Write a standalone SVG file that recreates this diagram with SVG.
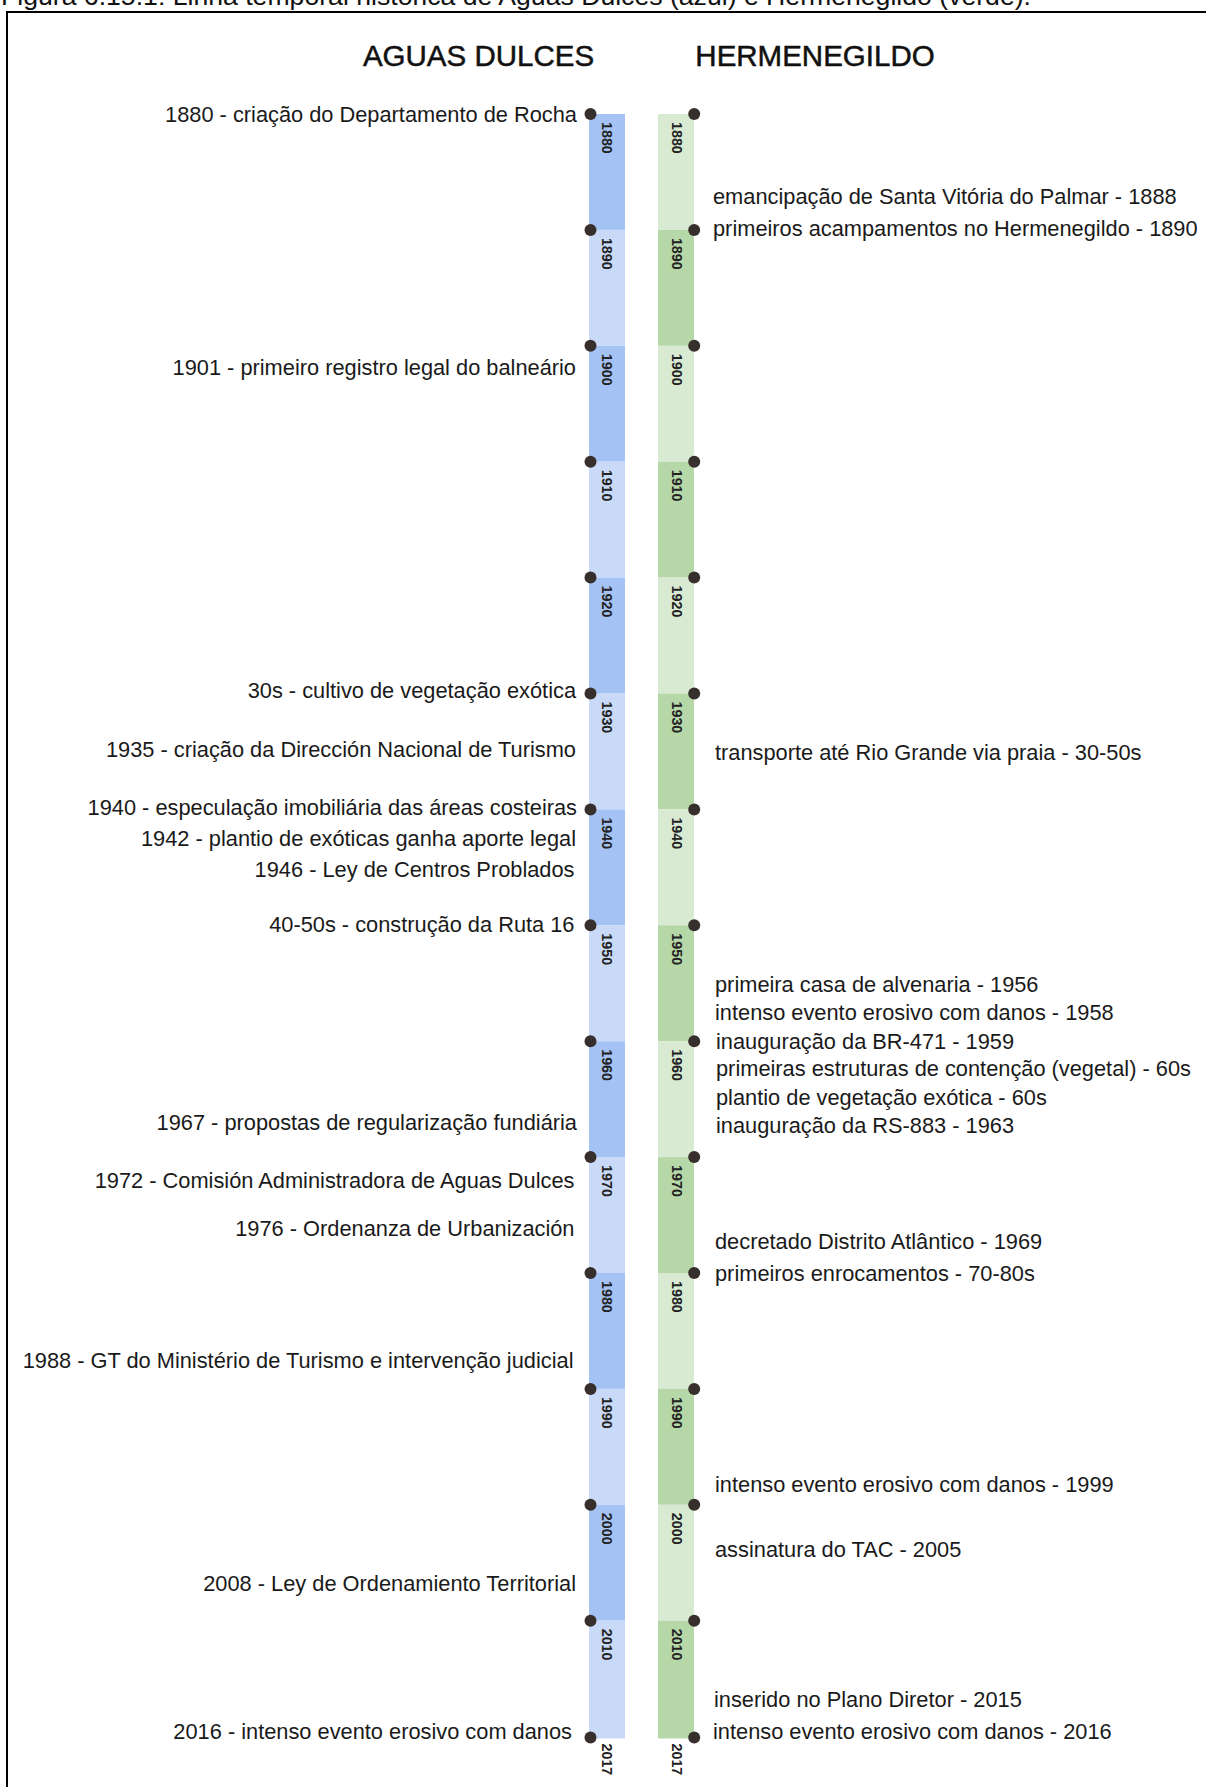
<svg xmlns="http://www.w3.org/2000/svg" width="1206" height="1787" viewBox="0 0 1206 1787">
<style>
  .cap{font-family:"Liberation Sans",Arial,sans-serif;font-size:26px;fill:#111}
  .ttl{font-family:"Liberation Sans",Arial,sans-serif;font-size:29.5px;fill:#111;stroke:#111;stroke-width:0.5px;text-anchor:middle}
  .ev{font-family:"Liberation Sans",Arial,sans-serif;font-size:21.8px;fill:#1a1a1a}
  .l{text-anchor:end}
  .yr{font-family:"Liberation Sans",Arial,sans-serif;font-size:14.3px;font-weight:bold;fill:#222}
  .bd{fill:#a4c2f4}.bl{fill:#c9daf8}.gd{fill:#b6d7a8}.gl{fill:#d9ead3}
  .dot{fill:#362f2c}
</style>
<rect width="1206" height="1787" fill="#fff"/>
<text class="cap" x="1" y="5" textLength="1030" lengthAdjust="spacingAndGlyphs">Figura 6.15.1: Linha temporal histórica de Aguas Dulces (azul) e Hermenegildo (verde).</text>
<path d="M7,1787 V12 H1206" fill="none" stroke="#000" stroke-width="2"/>

<g id="title-aguas-dulces"><text class="ttl" x="478.5" y="66">AGUAS DULCES</text></g>
<g id="title-hermenegildo"><text class="ttl" x="815" y="66">HERMENEGILDO</text></g>

<g id="bar-aguas-dulces">
  <rect class="bd" x="589" y="114" width="36" height="115.9"/>
  <rect class="bl" x="589" y="229.9" width="36" height="115.9"/>
  <rect class="bd" x="589" y="345.8" width="36" height="115.9"/>
  <rect class="bl" x="589" y="461.7" width="36" height="115.9"/>
  <rect class="bd" x="589" y="577.6" width="36" height="115.9"/>
  <rect class="bl" x="589" y="693.5" width="36" height="115.9"/>
  <rect class="bd" x="589" y="809.4" width="36" height="115.9"/>
  <rect class="bl" x="589" y="925.3" width="36" height="115.9"/>
  <rect class="bd" x="589" y="1041.2" width="36" height="115.9"/>
  <rect class="bl" x="589" y="1157.1" width="36" height="115.9"/>
  <rect class="bd" x="589" y="1273" width="36" height="115.9"/>
  <rect class="bl" x="589" y="1388.9" width="36" height="115.9"/>
  <rect class="bd" x="589" y="1504.8" width="36" height="115.9"/>
  <rect class="bl" x="589" y="1620.7" width="36" height="117.8"/>
  <g class="yr">
    <text transform="translate(607.3,122) rotate(90)" y="5">1880</text>
    <text transform="translate(607.3,237.9) rotate(90)" y="5">1890</text>
    <text transform="translate(607.3,353.8) rotate(90)" y="5">1900</text>
    <text transform="translate(607.3,469.7) rotate(90)" y="5">1910</text>
    <text transform="translate(607.3,585.6) rotate(90)" y="5">1920</text>
    <text transform="translate(607.3,701.5) rotate(90)" y="5">1930</text>
    <text transform="translate(607.3,817.4) rotate(90)" y="5">1940</text>
    <text transform="translate(607.3,933.3) rotate(90)" y="5">1950</text>
    <text transform="translate(607.3,1049.2) rotate(90)" y="5">1960</text>
    <text transform="translate(607.3,1165.1) rotate(90)" y="5">1970</text>
    <text transform="translate(607.3,1281) rotate(90)" y="5">1980</text>
    <text transform="translate(607.3,1396.9) rotate(90)" y="5">1990</text>
    <text transform="translate(607.3,1512.8) rotate(90)" y="5">2000</text>
    <text transform="translate(607.3,1628.7) rotate(90)" y="5">2010</text>
    <text transform="translate(607.3,1743.5) rotate(90)" y="5">2017</text>
  </g>
</g>

<g id="bar-hermenegildo">
  <rect class="gl" x="658" y="114" width="36" height="115.9"/>
  <rect class="gd" x="658" y="229.9" width="36" height="115.9"/>
  <rect class="gl" x="658" y="345.8" width="36" height="115.9"/>
  <rect class="gd" x="658" y="461.7" width="36" height="115.9"/>
  <rect class="gl" x="658" y="577.6" width="36" height="115.9"/>
  <rect class="gd" x="658" y="693.5" width="36" height="115.9"/>
  <rect class="gl" x="658" y="809.4" width="36" height="115.9"/>
  <rect class="gd" x="658" y="925.3" width="36" height="115.9"/>
  <rect class="gl" x="658" y="1041.2" width="36" height="115.9"/>
  <rect class="gd" x="658" y="1157.1" width="36" height="115.9"/>
  <rect class="gl" x="658" y="1273" width="36" height="115.9"/>
  <rect class="gd" x="658" y="1388.9" width="36" height="115.9"/>
  <rect class="gl" x="658" y="1504.8" width="36" height="115.9"/>
  <rect class="gd" x="658" y="1620.7" width="36" height="117.8"/>
  <g class="yr">
    <text transform="translate(676.5,122) rotate(90)" y="5">1880</text>
    <text transform="translate(676.5,237.9) rotate(90)" y="5">1890</text>
    <text transform="translate(676.5,353.8) rotate(90)" y="5">1900</text>
    <text transform="translate(676.5,469.7) rotate(90)" y="5">1910</text>
    <text transform="translate(676.5,585.6) rotate(90)" y="5">1920</text>
    <text transform="translate(676.5,701.5) rotate(90)" y="5">1930</text>
    <text transform="translate(676.5,817.4) rotate(90)" y="5">1940</text>
    <text transform="translate(676.5,933.3) rotate(90)" y="5">1950</text>
    <text transform="translate(676.5,1049.2) rotate(90)" y="5">1960</text>
    <text transform="translate(676.5,1165.1) rotate(90)" y="5">1970</text>
    <text transform="translate(676.5,1281) rotate(90)" y="5">1980</text>
    <text transform="translate(676.5,1396.9) rotate(90)" y="5">1990</text>
    <text transform="translate(676.5,1512.8) rotate(90)" y="5">2000</text>
    <text transform="translate(676.5,1628.7) rotate(90)" y="5">2010</text>
    <text transform="translate(676.5,1743.5) rotate(90)" y="5">2017</text>
  </g>
</g>

<g id="connectors">
  <g class="dot">
    <circle cx="590.5" cy="114" r="6"/><circle cx="590.5" cy="229.9" r="6"/><circle cx="590.5" cy="345.8" r="6"/>
    <circle cx="590.5" cy="461.7" r="6"/><circle cx="590.5" cy="577.6" r="6"/><circle cx="590.5" cy="693.5" r="6"/>
    <circle cx="590.5" cy="809.4" r="6"/><circle cx="590.5" cy="925.3" r="6"/><circle cx="590.5" cy="1041.2" r="6"/>
    <circle cx="590.5" cy="1157.1" r="6"/><circle cx="590.5" cy="1273" r="6"/><circle cx="590.5" cy="1388.9" r="6"/>
    <circle cx="590.5" cy="1504.8" r="6"/><circle cx="590.5" cy="1620.7" r="6"/><circle cx="590.5" cy="1737.5" r="6"/>
    <circle cx="694.2" cy="114" r="6"/><circle cx="694.2" cy="229.9" r="6"/><circle cx="694.2" cy="345.8" r="6"/>
    <circle cx="694.2" cy="461.7" r="6"/><circle cx="694.2" cy="577.6" r="6"/><circle cx="694.2" cy="693.5" r="6"/>
    <circle cx="694.2" cy="809.4" r="6"/><circle cx="694.2" cy="925.3" r="6"/><circle cx="694.2" cy="1041.2" r="6"/>
    <circle cx="694.2" cy="1157.1" r="6"/><circle cx="694.2" cy="1273" r="6"/><circle cx="694.2" cy="1388.9" r="6"/>
    <circle cx="694.2" cy="1504.8" r="6"/><circle cx="694.2" cy="1620.7" r="6"/><circle cx="694.2" cy="1737.5" r="6"/>
  </g>
</g>

<g id="events-aguas-dulces" class="ev l">
  <g id="ad-1880"><text x="577" y="121.7">1880 - criação do Departamento de Rocha</text></g>
  <g id="ad-1901"><text x="576" y="375">1901 - primeiro registro legal do balneário</text></g>
  <g id="ad-30s"><text x="576" y="698">30s - cultivo de vegetação exótica</text></g>
  <g id="ad-1935"><text x="576" y="757">1935 - criação da Dirección Nacional de Turismo</text></g>
  <g id="ad-1940"><text x="577" y="815">1940 - especulação imobiliária das áreas costeiras</text></g>
  <g id="ad-1942"><text x="576" y="846">1942 - plantio de exóticas ganha aporte legal</text></g>
  <g id="ad-1946"><text x="574.5" y="877">1946 - Ley de Centros Problados</text></g>
  <g id="ad-4050"><text x="574.5" y="932">40-50s - construção da Ruta 16</text></g>
  <g id="ad-1967"><text x="577" y="1130">1967 - propostas de regularização fundiária</text></g>
  <g id="ad-1972"><text x="574.5" y="1188">1972 - Comisión Administradora de Aguas Dulces</text></g>
  <g id="ad-1976"><text x="574.5" y="1236">1976 - Ordenanza de Urbanización</text></g>
  <g id="ad-1988"><text x="573.5" y="1368">1988 - GT do Ministério de Turismo e intervenção judicial</text></g>
  <g id="ad-2008"><text x="576" y="1591">2008 - Ley de Ordenamiento Territorial</text></g>
  <g id="ad-2016"><text x="572" y="1739">2016 - intenso evento erosivo com danos</text></g>
</g>

<g id="events-hermenegildo" class="ev">
  <g id="h-1888"><text x="713" y="204">emancipação de Santa Vitória do Palmar - 1888</text></g>
  <g id="h-1890"><text x="713" y="236">primeiros acampamentos no Hermenegildo - 1890</text></g>
  <g id="h-3050"><text x="715" y="760">transporte até Rio Grande via praia - 30-50s</text></g>
  <g id="h-1956"><text x="715" y="992">primeira casa de alvenaria - 1956</text></g>
  <g id="h-1958"><text x="715" y="1020">intenso evento erosivo com danos - 1958</text></g>
  <g id="h-1959"><text x="716" y="1049">inauguração da BR-471 - 1959</text></g>
  <g id="h-60s-a"><text x="716" y="1076">primeiras estruturas de contenção (vegetal) - 60s</text></g>
  <g id="h-60s-b"><text x="716" y="1105">plantio de vegetação exótica - 60s</text></g>
  <g id="h-1963"><text x="716" y="1133">inauguração da RS-883 - 1963</text></g>
  <g id="h-1969"><text x="715" y="1249">decretado Distrito Atlântico - 1969</text></g>
  <g id="h-7080"><text x="715" y="1281">primeiros enrocamentos - 70-80s</text></g>
  <g id="h-1999"><text x="715" y="1492">intenso evento erosivo com danos - 1999</text></g>
  <g id="h-2005"><text x="715" y="1557">assinatura do TAC - 2005</text></g>
  <g id="h-2015"><text x="714" y="1707">inserido no Plano Diretor - 2015</text></g>
  <g id="h-2016"><text x="713" y="1739">intenso evento erosivo com danos - 2016</text></g>
</g>
</svg>
